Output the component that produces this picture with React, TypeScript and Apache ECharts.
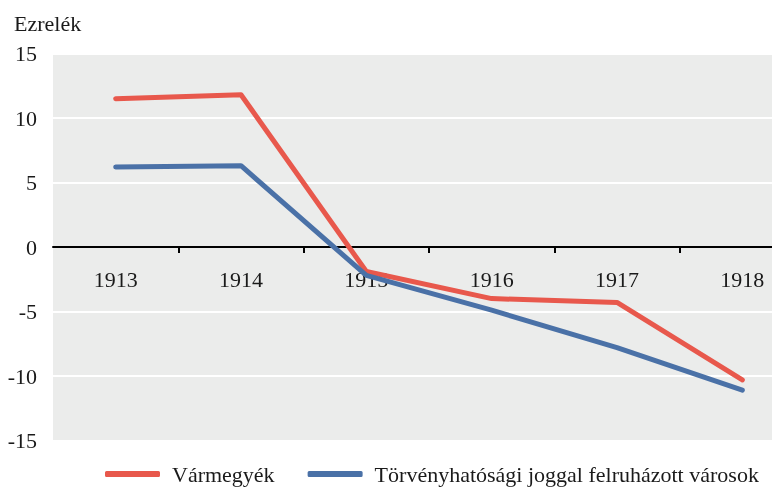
import React, { useEffect, useRef } from "react";
import * as echarts from "echarts";

const years = ["1913", "1914", "1915", "1916", "1917", "1918"];
const varmegyek = [11.5, 11.8, -1.9, -4.0, -4.3, -10.3];
const varosok = [6.2, 6.3, -2.2, -4.9, -7.8, -11.1];
const seriesNames = ["Vármegyék", "Törvényhatósági joggal felruházott városok"];
const yTitle = "Ezrelék";

const FONT = "'Liberation Serif', 'Times New Roman', serif";

export default function App() {
  const ref = useRef<HTMLDivElement>(null);
  useEffect(() => {
    const chart = echarts.init(ref.current!, null, { renderer: "svg" });
    chart.setOption({
      animation: false,
      textStyle: { fontFamily: FONT },
      title: {
        text: yTitle,
        left: 9,
        top: 7,
        textStyle: { fontFamily: FONT, fontSize: 22, fontWeight: "normal", color: "#1a1a1a" },
      },
      grid: {
        left: 53,
        right: 0,
        top: 53.5,
        bottom: 48.5,
        show: true,
        backgroundColor: "#ebeceb",
        borderWidth: 0,
      },
      legend: {
        left: 100,
        top: 458,
        itemWidth: 55,
        itemHeight: 6,
        itemGap: 33,
        icon: "roundRect",
        textStyle: { fontFamily: FONT, fontSize: 22, color: "#1a1a1a", padding: [0, 0, 0, 7] },
        data: seriesNames,
      },
      xAxis: {
        type: "category",
        data: years,
        axisLine: { onZero: true, lineStyle: { color: "#000", width: 2 } },
        axisTick: {
          show: true,
          length: 6,
          interval: (index: number) => index !== 0,
          lineStyle: { color: "#000", width: 2 },
        },
        axisLabel: { fontFamily: FONT, fontSize: 22, color: "#1a1a1a", margin: -172 },
        splitLine: { show: false },
      },
      yAxis: {
        type: "value",
        min: -15,
        max: 15,
        interval: 5,
        axisLine: { show: false },
        axisTick: { show: false },
        axisLabel: { fontFamily: FONT, fontSize: 22, color: "#1a1a1a", margin: 16 },
        splitLine: { lineStyle: { color: "#ffffff", width: 2 } },
      },
      series: [
        {
          name: seriesNames[0],
          type: "line",
          data: varmegyek,
          symbol: "none",
          lineStyle: { width: 5, color: "#e8584c", cap: "round", join: "round" },
          itemStyle: { color: "#e8584c" },
        },
        {
          name: seriesNames[1],
          type: "line",
          data: varosok,
          symbol: "none",
          lineStyle: { width: 5, color: "#4a71a7", cap: "round", join: "round" },
          itemStyle: { color: "#4a71a7" },
        },
      ],
    });
    return () => chart.dispose();
  }, []);
  return (
    <div style={{ position: "fixed", left: 0, top: 0, width: 772, height: 489, overflow: "hidden" }}>
      <div ref={ref} style={{ width: 805, height: 489 }} />
    </div>
  );
}
